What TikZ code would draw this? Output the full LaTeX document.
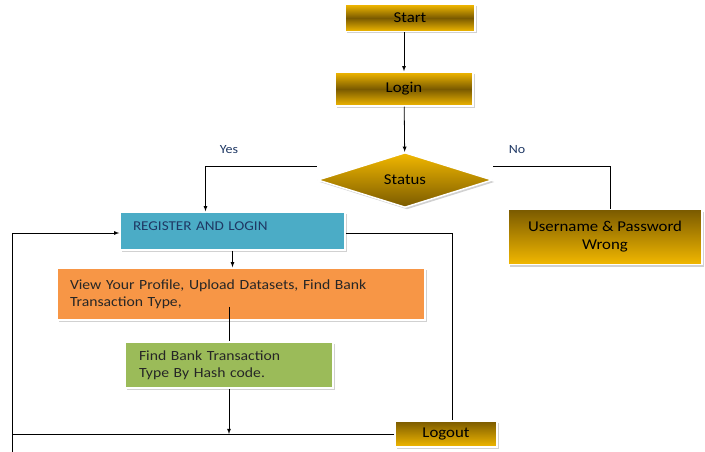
\documentclass[tikz,border=0pt]{standalone}
\usepackage{fontspec}
\setmainfont{Carlito}[FakeStretch=1.12]
\usetikzlibrary{shapes.geometric,shadows}

\definecolor{gold}{HTML}{F2B800}
\definecolor{darkgold}{HTML}{7A5A00}
\definecolor{regblue}{HTML}{4BACC6}
\definecolor{vieworange}{HTML}{F79646}
\definecolor{findgreen}{HTML}{9BBB59}
\definecolor{navytext}{HTML}{1F3864}

\tikzset{
  boxshadow/.style={drop shadow={shadow xshift=2pt,shadow yshift=-2pt,fill=black!18,opacity=1}},
  goldbar/.style={rectangle,boxshadow,draw=white,line width=1.5pt,
    top color=gold,bottom color=gold,middle color=darkgold,inner sep=0pt},
  golddown/.style={rectangle,boxshadow,draw=white,line width=1.5pt,
    top color=darkgold,bottom color=gold,inner sep=0pt},
  flatbox/.style={rectangle,boxshadow,draw=white,line width=1.5pt,inner sep=0pt,
    align=left,font=\fontsize{14}{17}\selectfont},
  arr/.style={->,>=latex,thick},
  link/.style={thick},
  answer/.style={font=\fontsize{12.5}{15}\selectfont,text=navytext}
}

\begin{document}
\begin{tikzpicture}[x=1pt,y=-1pt,font=\fontsize{15}{18}\selectfont]
		\useasboundingbox (0,0) rectangle (705,452);
		% top of the chart
		\node[goldbar,minimum width=130pt,minimum height=27pt] (start) at (410,18) {Start};
		\node[goldbar,minimum width=138pt,minimum height=34pt] (login) at (404,89) {Login};
		\node[diamond,aspect=3.2,minimum width=175pt,minimum height=55pt,inner sep=0pt,
			boxshadow,draw=white,line width=1.5pt,top color=gold,bottom color=darkgold] (status) at (405,180) {Status};
		\node[golddown,minimum width=194pt,minimum height=55pt,align=center] (wrong) at (605,237) {Username \& Password\\Wrong};
		\node[answer] (yes) at (229,150) {Yes};
		\node[answer] (no) at (517,150) {No};
		% user part
		\node[flatbox,fill=regblue,minimum width=225pt,minimum height=38pt,text width=199pt,
			text height=10pt,text depth=12pt,text=navytext,font=\fontsize{13.5}{16}\selectfont] (register) at (232.5,231) {REGISTER AND LOGIN};
		\node[flatbox,fill=vieworange,minimum width=368pt,minimum height=52pt,text width=342pt,
			text=black!85] (view) at (241,294) {View Your Profile, Upload Datasets, Find Bank\\Transaction Type,};
		\node[flatbox,fill=findgreen,minimum width=208pt,minimum height=46pt,text width=180pt,
			text=black!85] (find) at (229,365) {Find Bank Transaction\\Type By Hash code.};
		\node[golddown,minimum width=102pt,minimum height=26pt] (logout) at (446,434) {Logout};
		\coordinate (loopjoin) at (12,434);
		\coordinate (loopbottom) at (12,452);
		% connectors
		\draw[arr] (start.south -| login.north) -- (login.north);
		\draw[arr] (login) -- (status);
		\draw[arr] ([yshift=14pt]status.west) -| ([xshift=-27pt]register.north);
		\draw[link] ([yshift=14pt]status.east) -| ([xshift=5pt]wrong.north);
		\draw[arr] (register.south) -- (register.south |- view.north);
		\draw[link] ([yshift=14pt]view.south -| find.north) -- (find.north);
		\draw[arr] (find.south) -- (find.south |- logout.west);
		\draw[link] (logout.west) -- (loopjoin);
		\draw[arr] (loopbottom) |- ([yshift=-2pt]register.west);
		\draw[link] ([yshift=-2pt]register.east) -| ([xshift=6pt]logout.north);
	\end{tikzpicture}
\end{document}
